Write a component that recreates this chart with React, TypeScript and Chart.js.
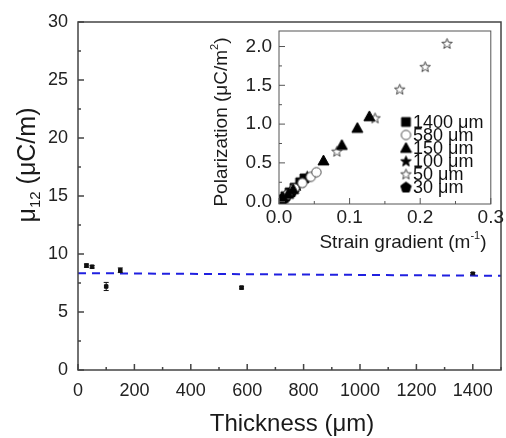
import React, { useEffect, useRef } from 'react';
import { Chart, registerables } from 'chart.js';

Chart.register(...registerables);

const FONT = '"Liberation Sans", Arial, sans-serif';

// ---- main chart data ----
const thickness = [30, 50, 100, 150, 580, 1400];
const mu12 = [9.0, 8.9, 7.2, 8.6, 7.1, 8.3];
const mu12Err = [0.15, 0.12, 0.35, 0.2, 0.12, 0.1];
const fitX = [0, 1500];
const fitY = [8.35, 8.12];
const mainXTicks = [0, 200, 400, 600, 800, 1000, 1200, 1400];
const mainXMinor = [100, 300, 500, 700, 900, 1100, 1300, 1500];
const mainYTicks = [0, 5, 10, 15, 20, 25, 30];
const mainYMinor = [2.5, 7.5, 12.5, 17.5, 22.5, 27.5];

// ---- inset data (strain gradient m^-1, polarization uC/m^2) ----
const legendLabels = ['1400 μm', '580 μm', '150 μm', '100 μm', '50 μm', '30 μm'];
const grad1400 = [0.004, 0.009, 0.015, 0.022, 0.03, 0.036];
const pol1400 = [0.03, 0.07, 0.12, 0.18, 0.25, 0.3];
const grad580 = [0.012, 0.022, 0.033, 0.045, 0.053];
const pol580 = [0.09, 0.17, 0.24, 0.32, 0.38];
const grad150 = [0.006, 0.013, 0.02, 0.063, 0.089, 0.111, 0.128];
const pol150 = [0.05, 0.1, 0.16, 0.53, 0.73, 0.95, 1.1];
const grad100 = [0.007, 0.016, 0.026, 0.04];
const pol100 = [0.05, 0.13, 0.21, 0.33];
const grad50 = [0.082, 0.136, 0.171, 0.207, 0.238];
const pol50 = [0.65, 1.08, 1.45, 1.74, 2.04];
const grad30 = [0.002, 0.005, 0.01, 0.018];
const pol30 = [0.02, 0.04, 0.08, 0.13];
const insetXTicks = [0, 0.1, 0.2, 0.3];
const insetXMinor = [0.05, 0.15, 0.25];
const insetYTicks = [0, 0.5, 1.0, 1.5, 2.0];
const insetYMinor = [0.25, 0.75, 1.25, 1.75];

type Part = { t: string; sub?: boolean; sup?: boolean };

function makeMarker(shape: string, filled: boolean, size = 13): HTMLCanvasElement {
  const c = document.createElement('canvas');
  c.width = size;
  c.height = size;
  const ctx = c.getContext('2d')!;
  const cx = size / 2, cy = size / 2, r = size / 2 - 1;
  ctx.beginPath();
  if (shape === 'square') {
    ctx.rect(cx - r * 0.8, cy - r * 0.8, r * 1.6, r * 1.6);
  } else if (shape === 'circle') {
    ctx.arc(cx, cy, r * 0.85, 0, Math.PI * 2);
  } else if (shape === 'triangle') {
    ctx.moveTo(cx, cy - r);
    ctx.lineTo(cx + r, cy + r * 0.8);
    ctx.lineTo(cx - r, cy + r * 0.8);
    ctx.closePath();
  } else if (shape === 'star') {
    for (let i = 0; i < 10; i++) {
      const rr = i % 2 === 0 ? r : r * 0.42;
      const a = -Math.PI / 2 + (i * Math.PI) / 5;
      const px = cx + rr * Math.cos(a), py = cy + rr * Math.sin(a) + r * 0.1;
      if (i === 0) ctx.moveTo(px, py); else ctx.lineTo(px, py);
    }
    ctx.closePath();
  } else if (shape === 'pentagon') {
    for (let i = 0; i < 5; i++) {
      const a = -Math.PI / 2 + (i * 2 * Math.PI) / 5;
      const px = cx + r * Math.cos(a), py = cy + r * Math.sin(a) + r * 0.1;
      if (i === 0) ctx.moveTo(px, py); else ctx.lineTo(px, py);
    }
    ctx.closePath();
  }
  ctx.fillStyle = filled ? '#000' : '#fff';
  ctx.fill();
  ctx.strokeStyle = filled ? '#000' : '#444';
  ctx.lineWidth = 1;
  ctx.stroke();
  return c;
}

function drawRich(ctx: CanvasRenderingContext2D, parts: Part[], x: number, y: number, size: number, rotate: boolean) {
  ctx.save();
  ctx.translate(x, y);
  if (rotate) ctx.rotate(-Math.PI / 2);
  ctx.fillStyle = '#1a1a1a';
  ctx.textBaseline = 'middle';
  ctx.textAlign = 'left';
  const fontOf = (p: Part) => `${p.sub || p.sup ? Math.round(size * 0.6) : size}px ${FONT}`;
  const widths = parts.map((p) => {
    ctx.font = fontOf(p);
    return ctx.measureText(p.t).width;
  });
  let cx = -widths.reduce((a, b) => a + b, 0) / 2;
  parts.forEach((p, i) => {
    ctx.font = fontOf(p);
    const dy = p.sub ? size * 0.3 : p.sup ? -size * 0.38 : 0;
    ctx.fillText(p.t, cx, dy);
    cx += widths[i];
  });
  ctx.restore();
}

function decoPlugin(id: string, ticks: { xMaj: number[]; xMin: number[]; yMaj: number[]; yMin: number[] }, color: string, lw: number, extra: (chart: any) => void) {
  return {
    id,
    afterDraw(chart: any) {
      const { ctx, chartArea: ca, scales } = chart;
      ctx.save();
      ctx.strokeStyle = color;
      ctx.lineWidth = lw;
      ctx.strokeRect(ca.left, ca.top, ca.right - ca.left, ca.bottom - ca.top);
      ctx.beginPath();
      const xs = scales.x, ys = scales.y;
      ticks.xMaj.forEach((v) => { const p = xs.getPixelForValue(v); ctx.moveTo(p, ca.bottom); ctx.lineTo(p, ca.bottom - 6); });
      ticks.xMin.forEach((v) => { const p = xs.getPixelForValue(v); ctx.moveTo(p, ca.bottom); ctx.lineTo(p, ca.bottom - 3); });
      ticks.yMaj.forEach((v) => { const p = ys.getPixelForValue(v); ctx.moveTo(ca.left, p); ctx.lineTo(ca.left + 6, p); });
      ticks.yMin.forEach((v) => { const p = ys.getPixelForValue(v); ctx.moveTo(ca.left, p); ctx.lineTo(ca.left + 3, p); });
      ctx.stroke();
      ctx.restore();
      extra(chart);
    },
  };
}

export default function App() {
  const mainRef = useRef<HTMLCanvasElement>(null);
  const insetRef = useRef<HTMLCanvasElement>(null);

  useEffect(() => {
    const mk = {
      square: makeMarker('square', true),
      circle: makeMarker('circle', false),
      triangle: makeMarker('triangle', true),
      starF: makeMarker('star', true),
      starH: makeMarker('star', false),
      pentagon: makeMarker('pentagon', true),
    };

    const tickFont = { family: FONT, size: 18 };

    const main = new Chart(mainRef.current!, {
      type: 'scatter',
      data: {
        datasets: [
          {
            data: fitX.map((x, i) => ({ x, y: fitY[i] })),
            showLine: true,
            borderColor: '#2020e0',
            borderWidth: 2,
            borderDash: [8, 6],
            pointRadius: 0,
          },
          {
            data: thickness.map((x, i) => ({ x, y: mu12[i] })),
            pointStyle: 'rect',
            pointRadius: 2.5,
            backgroundColor: '#111',
            borderColor: '#111',
          },
        ],
      },
      options: {
        responsive: false,
        animation: false,
        layout: { padding: { top: 22, right: 0, left: 0, bottom: 0 } },
        plugins: { legend: { display: false }, tooltip: { enabled: false } },
        scales: {
          x: {
            type: 'linear',
            min: 0,
            max: 1500,
            afterBuildTicks: (s: any) => { s.ticks = mainXTicks.map((v) => ({ value: v })); },
            afterFit: (s: any) => { s.height = 68; },
            grid: { display: false, drawTicks: false },
            border: { display: false },
            ticks: { font: tickFont, color: '#222', padding: 10, maxRotation: 0, callback: (v: any) => String(v) },
          },
          y: {
            type: 'linear',
            min: 0,
            max: 30,
            afterBuildTicks: (s: any) => { s.ticks = mainYTicks.map((v) => ({ value: v })); },
            afterFit: (s: any) => { s.width = 78; },
            grid: { display: false, drawTicks: false },
            border: { display: false },
            ticks: { font: tickFont, color: '#222', padding: 10, callback: (v: any) => String(v) },
          },
        },
      },
      plugins: [
        decoPlugin('mainDeco', { xMaj: mainXTicks, xMin: mainXMinor, yMaj: mainYTicks, yMin: mainYMinor }, '#444', 1.5, (chart: any) => {
          const { ctx } = chart;
          const meta = chart.getDatasetMeta(1);
          const ys = chart.scales.y;
          ctx.save();
          ctx.strokeStyle = '#111';
          ctx.lineWidth = 1;
          ctx.beginPath();
          meta.data.forEach((pt: any, i: number) => {
            const y1 = ys.getPixelForValue(mu12[i] + mu12Err[i]);
            const y2 = ys.getPixelForValue(mu12[i] - mu12Err[i]);
            ctx.moveTo(pt.x, y1); ctx.lineTo(pt.x, y2);
            ctx.moveTo(pt.x - 2.5, y1); ctx.lineTo(pt.x + 2.5, y1);
            ctx.moveTo(pt.x - 2.5, y2); ctx.lineTo(pt.x + 2.5, y2);
          });
          ctx.stroke();
          ctx.restore();
          drawRich(ctx, [{ t: 'Thickness (μm)' }], 292, 424, 24, false);
          drawRich(ctx, [{ t: 'μ' }, { t: '12', sub: true }, { t: ' (μC/m)' }], 28, 165, 25, true);
        }),
      ],
    } as any);

    const insetFont = { family: FONT, size: 19 };
    const series = [
      { g: grad150, p: pol150, m: mk.triangle },
      { g: grad50, p: pol50, m: mk.starH },
      { g: grad580, p: pol580, m: mk.circle },
      { g: grad1400, p: pol1400, m: mk.square },
      { g: grad100, p: pol100, m: mk.starF },
      { g: grad30, p: pol30, m: mk.pentagon },
    ];
    const legendMarkers = [mk.square, mk.circle, mk.triangle, mk.starF, mk.starH, mk.pentagon];

    const inset = new Chart(insetRef.current!, {
      type: 'scatter',
      data: {
        datasets: series.map((s) => ({
          data: s.g.map((x, i) => ({ x, y: s.p[i] })),
          pointStyle: s.m,
          pointRadius: 6,
        })),
      },
      options: {
        responsive: false,
        animation: false,
        layout: { padding: { top: 31, right: 13, left: 0, bottom: 0 } },
        plugins: { legend: { display: false }, tooltip: { enabled: false } },
        scales: {
          x: {
            type: 'linear',
            min: 0,
            max: 0.3,
            afterBuildTicks: (s: any) => { s.ticks = insetXTicks.map((v) => ({ value: v })); },
            afterFit: (s: any) => { s.height = 56; },
            grid: { display: false, drawTicks: false },
            border: { display: false },
            ticks: { font: insetFont, color: '#222', padding: 2, maxRotation: 0, callback: (v: any) => Number(v).toFixed(1) },
          },
          y: {
            type: 'linear',
            min: -0.03,
            max: 2.2,
            afterBuildTicks: (s: any) => { s.ticks = insetYTicks.map((v) => ({ value: v })); },
            afterFit: (s: any) => { s.width = 79; },
            grid: { display: false, drawTicks: false },
            border: { display: false },
            ticks: { font: insetFont, color: '#222', padding: 7, callback: (v: any) => Number(v).toFixed(1) },
          },
        },
      },
      plugins: [
        decoPlugin('insetDeco', { xMaj: insetXTicks, xMin: insetXMinor, yMaj: insetYTicks, yMin: insetYMinor }, '#555', 1, (chart: any) => {
          const { ctx } = chart;
          drawRich(ctx, [{ t: 'Strain gradient (m' }, { t: '-1', sup: true }, { t: ')' }], 203, 243, 19, false);
          drawRich(ctx, [{ t: 'Polarization (μC/m' }, { t: '2', sup: true }, { t: ')' }], 22, 122, 19, true);
          ctx.save();
          ctx.font = `18px ${FONT}`;
          ctx.fillStyle = '#111';
          ctx.textBaseline = 'middle';
          ctx.textAlign = 'left';
          legendLabels.forEach((lab, i) => {
            const y = 122 + i * 13;
            const m = legendMarkers[i];
            ctx.drawImage(m, 206 - m.width / 2, y - m.height / 2);
            ctx.fillText(lab, 213, y + 1);
          });
          ctx.restore();
        }),
      ],
    } as any);

    return () => {
      main.destroy();
      inset.destroy();
    };
  }, []);

  return (
    <div style={{ position: 'fixed', left: 0, top: 0, width: 506, height: 438, background: '#fff' }}>
      <canvas ref={mainRef} width={506} height={438} style={{ position: 'absolute', left: 0, top: 0, width: 506, height: 438 }} />
      <canvas ref={insetRef} width={306} height={260} style={{ position: 'absolute', left: 200, top: 0, width: 306, height: 260 }} />
    </div>
  );
}
